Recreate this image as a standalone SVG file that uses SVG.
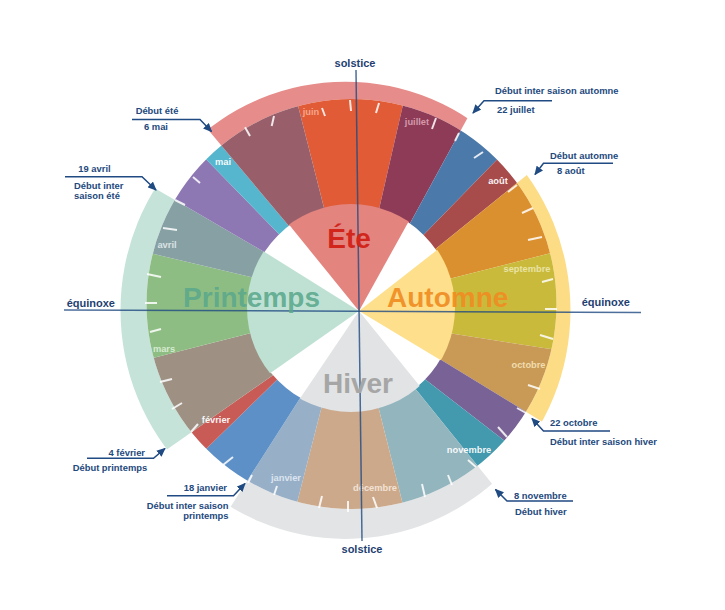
<svg xmlns="http://www.w3.org/2000/svg" width="725" height="610" viewBox="0 0 725 610">
<defs>
<style>
.ml{font-family:"Liberation Sans",Arial,sans-serif;font-size:9.3px;font-weight:bold;text-anchor:middle}
.w{fill:#ffffff;fill-opacity:.95}
.p{fill:#ffffff;fill-opacity:.5}
.sl{font-family:"Liberation Sans",Arial,sans-serif;font-size:28px;font-weight:bold}
.co{font-family:"Liberation Sans",Arial,sans-serif;font-size:9.4px;font-weight:bold;fill:#23497d}
.ax{font-family:"Liberation Sans",Arial,sans-serif;font-size:11px;font-weight:bold;fill:#1f3f72}
.lead{fill:none;stroke:#1f4a82;stroke-width:1.5;marker-end:url(#arr)}
.tk line{stroke:#ffffff;stroke-width:2;stroke-opacity:.85}
</style>
<clipPath id="ring"><path clip-rule="evenodd" d="M146.5,304 a205,205 0 1,0 410,0 a205,205 0 1,0 -410,0 Z M248,308 a103,103 0 1,0 206,0 a103,103 0 1,0 -206,0 Z"/></clipPath>
<clipPath id="band"><path clip-rule="evenodd" d="M120.5,310.3 a225,228.6 0 1,0 450,0 a225,228.6 0 1,0 -450,0 Z M146.5,304 a205,205 0 1,0 410,0 a205,205 0 1,0 -410,0 Z"/></clipPath>
<clipPath id="core"><circle cx="351" cy="308" r="104"/></clipPath>
<marker id="arr" markerUnits="userSpaceOnUse" markerWidth="9" markerHeight="8" refX="8" refY="4" orient="auto"><path d="M0,0 L9,4 L0,8 Z" fill="#1f4a82"/></marker>
</defs>
<rect width="725" height="610" fill="#ffffff"/>

<g id="bands" clip-path="url(#band)">
 <g id="band-ete"><path d="M306.2,246.5 L189.2,107.3 L285.8,57.5 L415,52.4 L485,85.9 L395,250.8 Z" fill="#E68C8A"/></g>
 <g id="band-automne"><path d="M414.8,265.7 L555.9,151.6 L599.2,240.8 L610.1,358.4 L572.5,440.3 L413.5,343.1 Z" fill="#FDDC86"/></g>
 <g id="band-hiver"><path d="M396,364.8 L510,505.9 L415.8,555.7 L284.2,552.7 L220,523.4 L316,373.3 Z" fill="#E3E4E5"/></g>
 <g id="band-printemps"><path d="M298.3,357.5 L148.3,462.5 L102.5,370.8 L96.2,240.4 L131.2,174.5 L288.8,266.3 Z" fill="#C5E3D8"/></g>
</g>

<g id="months" clip-path="url(#ring)">
 <g id="m-juin"><path d="M330.8,234.5 L285.8,57.5 L415,52.4 L373,235.5 Z" fill="#E05B36"/></g>
 <g id="m-juillet"><path d="M373,235.5 L415,52.4 L485,85.9 L395,250.8 Z" fill="#8E3B57"/></g>
 <g id="m-juillet-aout"><path d="M395,250.8 L485,85.9 L531.7,124.1 L405.7,253.2 Z" fill="#4B79A9"/></g>
 <g id="m-aout"><path d="M405.7,253.2 L531.7,124.1 L555.9,151.6 L414.8,265.7 Z" fill="#A84B4B"/></g>
 <g id="m-aout-sept"><path d="M414.8,265.7 L555.9,151.6 L599.2,240.8 L422.2,285.8 Z" fill="#DB902F"/></g>
 <g id="m-septembre"><path d="M422.2,285.8 L599.2,240.8 L610.1,358.4 L418,328.3 Z" fill="#C9BA3B"/></g>
 <g id="m-octobre"><path d="M418,328.3 L610.1,358.4 L572.5,440.3 L413.5,343.1 Z" fill="#C89A55"/></g>
 <g id="m-oct-nov"><path d="M413.5,343.1 L572.5,440.3 L552.5,477.9 L399.5,359.6 Z" fill="#796296"/></g>
 <g id="m-novembre"><path d="M399.5,359.6 L552.5,477.9 L510,505.9 L396,364.8 Z" fill="#4399AE"/></g>
 <g id="m-nov-dec"><path d="M396,364.8 L510,505.9 L415.8,555.7 L370.8,376.9 Z" fill="#93B5BE"/></g>
 <g id="m-decembre"><path d="M370.8,376.9 L415.8,555.7 L284.2,552.7 L329.2,377.5 Z" fill="#CCA98B"/></g>
 <g id="m-janvier"><path d="M329.2,377.5 L284.2,552.7 L220,523.4 L316,373.3 Z" fill="#97AFC7"/></g>
 <g id="m-janv-fev"><path d="M316,373.3 L220,523.4 L169.1,485 L298.2,359 Z" fill="#5C90C6"/></g>
 <g id="m-fevrier"><path d="M298.2,359 L169.1,485 L148.3,462.5 L298.3,357.5 Z" fill="#C95B56"/></g>
 <g id="m-fev-mars"><path d="M298.3,357.5 L148.3,462.5 L102.5,370.8 L279.5,325.8 Z" fill="#9E9184"/></g>
 <g id="m-mars"><path d="M279.5,325.8 L102.5,370.8 L96.2,240.4 L280.8,284 Z" fill="#8EBD83"/></g>
 <g id="m-avril"><path d="M280.8,284 L96.2,240.4 L131.2,174.5 L288.8,266.3 Z" fill="#87A0A4"/></g>
 <g id="m-avril-mai"><path d="M288.8,266.3 L131.2,174.5 L171.7,124.1 L297.7,253.2 Z" fill="#8D78B3"/></g>
 <g id="m-mai"><path d="M297.7,253.2 L171.7,124.1 L189.2,107.3 L306.2,246.5 Z" fill="#55B6CD"/></g>
 <g id="m-mai-juin"><path d="M306.2,246.5 L189.2,107.3 L285.8,57.5 L330.8,234.5 Z" fill="#985F6A"/></g>
</g>

<g id="ticks" class="tk">
 <line x1="245" y1="127.3" x2="250" y2="136"/>
 <line x1="274" y1="116" x2="271.7" y2="126"/>
 <line x1="322" y1="108" x2="325" y2="116"/>
 <line x1="350" y1="100" x2="351" y2="111"/>
 <line x1="379" y1="103" x2="376" y2="113"/>
 <line x1="436" y1="118" x2="432" y2="129"/>
 <line x1="459" y1="133" x2="455" y2="141"/>
 <line x1="483" y1="152" x2="474" y2="158"/>
 <line x1="517" y1="185" x2="508" y2="192"/>
 <line x1="533" y1="208" x2="522" y2="213"/>
 <line x1="542" y1="237" x2="528" y2="240"/>
 <line x1="553" y1="279" x2="542" y2="282"/>
 <line x1="557" y1="309" x2="545" y2="309"/>
 <line x1="553" y1="339" x2="540" y2="335"/>
 <line x1="540" y1="389" x2="528" y2="385"/>
 <line x1="526" y1="413" x2="517" y2="408"/>
 <line x1="507" y1="437" x2="498" y2="427"/>
 <line x1="476" y1="467" x2="468" y2="460"/>
 <line x1="452" y1="485" x2="448" y2="475"/>
 <line x1="425" y1="497" x2="422" y2="484"/>
 <line x1="377" y1="508" x2="373" y2="497"/>
 <line x1="348" y1="512" x2="348" y2="501"/>
 <line x1="319" y1="508" x2="322" y2="496"/>
 <line x1="274" y1="495" x2="277" y2="486"/>
 <line x1="248" y1="483" x2="252" y2="475"/>
 <line x1="223" y1="465" x2="233" y2="457"/>
 <line x1="191" y1="432" x2="198" y2="424"/>
 <line x1="172" y1="409" x2="182" y2="403"/>
 <line x1="160" y1="382" x2="172" y2="379"/>
 <line x1="150" y1="332" x2="161" y2="329"/>
 <line x1="145" y1="303" x2="157" y2="303"/>
 <line x1="147" y1="274" x2="161" y2="277"/>
 <line x1="163" y1="228" x2="177" y2="230"/>
 <line x1="175" y1="200" x2="185" y2="205"/>
 <line x1="193" y1="177" x2="200" y2="183"/>
</g>

<g id="seasons" clip-path="url(#core)">
 <g id="s-ete"><path d="M359,311 L270.9,202.2 L426.9,188.6 Z" fill="#E3847F"/></g>
 <g id="s-automne"><path d="M359,311 L469.3,224.8 L479,383.1 Z" fill="#FDDF8C"/></g>
 <g id="s-hiver"><path d="M359,311 L447.1,419.8 L280.7,427.1 Z" fill="#E2E3E4"/></g>
 <g id="s-printemps"><path d="M359,311 L244.3,391.3 L240.3,236.8 Z" fill="#BFE1D4"/></g>
</g>

<g id="month-labels">
 <text class="ml" x="311" y="115" fill="#F4A68C">juin</text>
 <text class="ml" x="417" y="124.5" fill="#D49AAB">juillet</text>
 <text class="ml w" x="223" y="165">mai</text>
 <text class="ml w" x="498" y="184">août</text>
 <text class="ml" x="527" y="271.5" fill="#E9E3A6">septembre</text>
 <text class="ml" x="528.5" y="367.5" fill="#F1DDAF">octobre</text>
 <text class="ml w" x="469" y="453.3">novembre</text>
 <text class="ml" x="375" y="490.5" fill="#F3E2D4">décembre</text>
 <text class="ml" x="286" y="481" fill="#DCE5EF">janvier</text>
 <text class="ml w" x="216" y="423">février</text>
 <text class="ml" x="164" y="351.7" fill="#D6EBD0">mars</text>
 <text class="ml" x="167" y="248.3" fill="#DBE3E5">avril</text>
</g>

<g id="connectors">
 <line x1="356" y1="70" x2="362" y2="541" stroke="#1f4a82" stroke-width="1.5" stroke-opacity=".8"/>
 <line x1="64" y1="310" x2="641" y2="312.5" stroke="#1f4a82" stroke-width="1.5" stroke-opacity=".8"/>
 <path class="lead" d="M132,119.5 H200 L211.5,131.5"/>
 <path class="lead" d="M552,100.7 H484 L473,113"/>
 <path class="lead" d="M613,163.3 H543.5 L535,174.5"/>
 <path class="lead" d="M610,431 H543.5 L532,418.5"/>
 <path class="lead" d="M573,501 H507 L495.5,489.5"/>
 <path class="lead" d="M167,495.7 H233.5 L245,483.5"/>
 <path class="lead" d="M87,458.3 H153.5 L165,448.5"/>
 <path class="lead" d="M65,176.7 H142 L156,190"/>
</g>

<g id="season-labels">
 <text class="sl" x="349" y="248" text-anchor="middle" fill="#D2261C">Éte</text>
 <text class="sl" x="387" y="306.5" fill="#F08C22" fill-opacity=".92">Automne</text>
 <text class="sl" x="320" y="306.5" text-anchor="end" fill="#5BA88C" fill-opacity=".9">Printemps</text>
 <text class="sl" x="358" y="393" text-anchor="middle" fill="#A6A6A6">Hiver</text>
</g>

<g id="axis-labels">
 <text class="ax" x="355" y="66.5" text-anchor="middle">solstice</text>
 <text class="ax" x="362" y="553" text-anchor="middle">solstice</text>
 <text class="ax" x="66.7" y="306.5">équinoxe</text>
 <text class="ax" x="581.7" y="305.5">équinoxe</text>
</g>

<g id="callouts">
 <text class="co" x="157" y="114" text-anchor="middle">Début été</text>
 <text class="co" x="156" y="130" text-anchor="middle">6 mai</text>
 <text class="co" x="495" y="93.5">Début inter saison automne</text>
 <text class="co" x="497" y="113">22 juillet</text>
 <text class="co" x="550" y="158.5">Début automne</text>
 <text class="co" x="557" y="174">8 août</text>
 <text class="co" x="550" y="426">22 octobre</text>
 <text class="co" x="550" y="444.5">Début inter saison hiver</text>
 <text class="co" x="514" y="498.5">8 novembre</text>
 <text class="co" x="515" y="515">Début hiver</text>
 <text class="co" x="227" y="491" text-anchor="end">18 janvier</text>
 <text class="co" x="228.5" y="509" text-anchor="end">Début inter saison</text>
 <text class="co" x="228.5" y="519" text-anchor="end">printemps</text>
 <text class="co" x="145" y="456" text-anchor="end">4 février</text>
 <text class="co" x="72.7" y="471">Début printemps</text>
 <text class="co" x="78.3" y="172">19 avril</text>
 <text class="co" x="74" y="188.5">Début inter</text>
 <text class="co" x="74" y="198.5">saison été</text>
</g>
</svg>
